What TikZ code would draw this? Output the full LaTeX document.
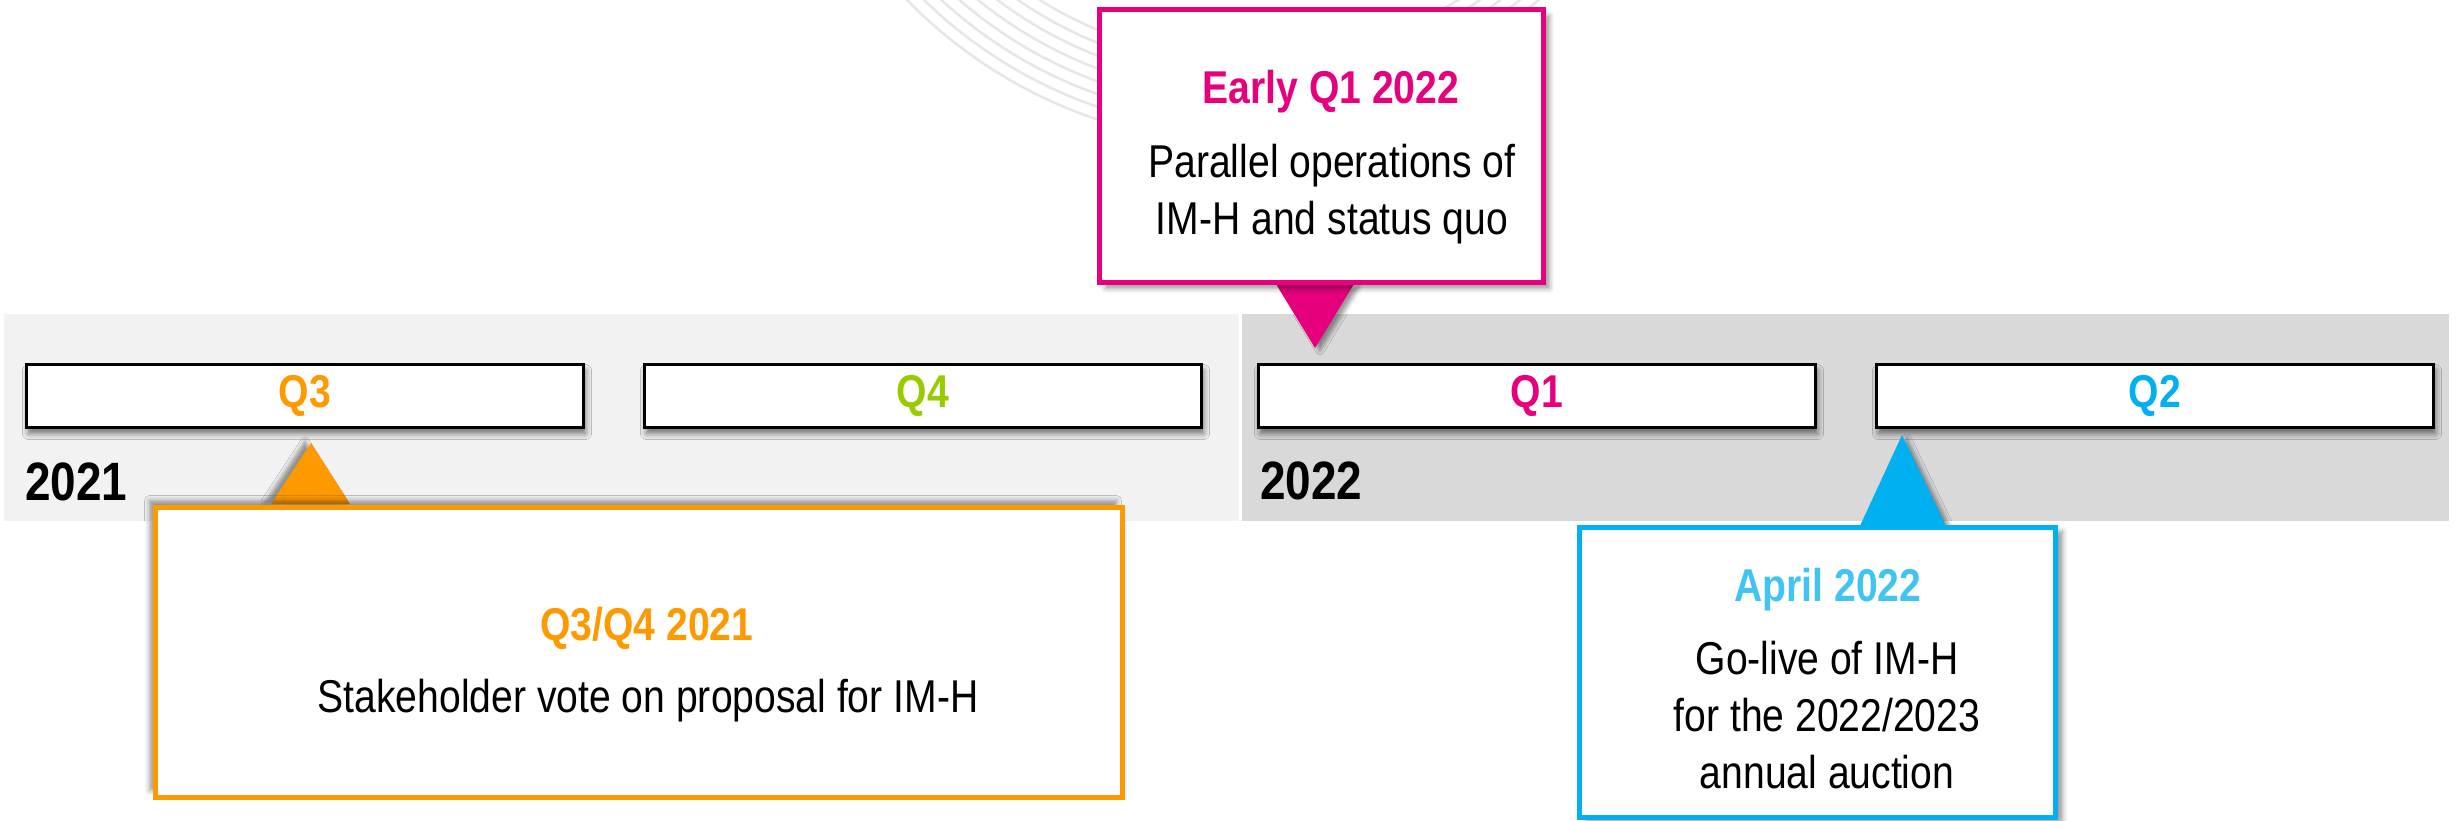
\documentclass[tikz,border=0pt]{standalone}
\usepackage{fontspec}
\setmainfont{Liberation Sans}[FakeStretch=0.85]
\usetikzlibrary{shadows.blur}
\definecolor{cpink}{RGB}{230,0,126}
\definecolor{corange}{RGB}{255,153,0}
\definecolor{cblue}{RGB}{0,176,240}
\definecolor{cbluet}{RGB}{66,196,242}
\definecolor{cgreen}{RGB}{153,204,0}
\definecolor{bandlight}{RGB}{242,242,242}
\definecolor{banddark}{RGB}{217,217,217}
\definecolor{arcgray}{RGB}{230,230,230}
\begin{document}
\begin{tikzpicture}[x=1pt,y=-1pt,
  qbox/.style={draw=black, line width=3pt, fill=white, minimum width=557pt, minimum height=63pt, inner sep=0pt,
    blur shadow={shadow xshift=2pt, shadow yshift=-6pt, shadow blur radius=6pt, shadow opacity=55},
    font=\fontsize{46}{56}\selectfont\bfseries},
  callout/.style={line width=5pt, fill=white, inner sep=0pt},
  pointer/.style={blur shadow={shadow xshift=5pt, shadow yshift=-3pt, shadow blur radius=4pt, shadow opacity=40}},
  titletext/.style={anchor=base, font=\fontsize{46}{56}\selectfont\bfseries},
  bodytext/.style={anchor=base, font=\fontsize{46}{56}\selectfont},
  yeartext/.style={anchor=base west, inner sep=0pt, font=\fontsize{54}{64}\selectfont\bfseries},
]
\useasboundingbox (0,0) rectangle (2458,820);
% decorative arcs
\begin{scope}
\clip (0,0) rectangle (1546,820);
\foreach \r in {478,466,...,394} \draw[arcgray, line width=2.5pt] (1249,-334) circle[radius=\r];
\end{scope}
% year bands
\fill[bandlight] (4,314) rectangle (1239,521);
\fill[banddark] (1242,314) rectangle (2449,521);
% quarter boxes
\node[qbox, text=corange] (q3) at (305,396) {Q3};
\node[qbox, text=cgreen] (q4) at (923,396) {Q4};
\node[qbox, text=cpink] (q1) at (1537,396) {Q1};
\node[qbox, text=cblue] (q2) at (2155,396) {Q2};
% years
\node[yeartext] (y21) at (25,500) {2021};
\node[yeartext] (y22) at (1260,499) {2022};
% pointers
\fill[cpink, pointer] (1276,284) -- (1354,284) -- (1315,348) -- cycle;
\fill[corange, blur shadow={shadow xshift=-6pt, shadow yshift=2pt, shadow blur radius=4pt, shadow opacity=40}] (271,504) -- (350,504) -- (311,443) -- cycle;
\fill[cblue, pointer] (1859,528) -- (1947,528) -- (1902,435) -- cycle;
% callout boxes
\node[callout, draw=cpink, minimum width=444pt, minimum height=273pt,
  blur shadow={shadow xshift=6pt, shadow yshift=-6pt, shadow blur radius=5pt, shadow opacity=40}] (boxpink) at (1321.5,146) {};
\node[callout, draw=corange, minimum width=967pt, minimum height=290pt,
  blur shadow={shadow xshift=-6pt, shadow yshift=7pt, shadow blur radius=5pt, shadow opacity=40}] (boxorange) at (639,652.5) {};
\node[callout, draw=cblue, minimum width=476pt, minimum height=290pt,
  blur shadow={shadow xshift=7pt, shadow yshift=-4pt, shadow blur radius=5pt, shadow opacity=40}] (boxblue) at (1817.5,672.5) {};
% callout texts
\node[titletext, text=cpink] (tpink) at (1331,103) {Early Q1 2022};
\node[bodytext] (bpinka) at (1332,177) {Parallel operations of};
\node[bodytext] (bpinkb) at (1332,234) {IM-H and status quo};
\node[titletext, text=corange] (torange) at (647,640) {Q3/Q4 2021};
\node[bodytext] (borange) at (648,712) {Stakeholder vote on proposal for IM-H};
\node[titletext, text=cbluet] (tblue) at (1828,601) {April 2022};
\node[bodytext] (bbluea) at (1827,674) {Go-live of IM-H};
\node[bodytext] (bblueb) at (1827,731) {for the 2022/2023};
\node[bodytext] (bbluec) at (1827,788) {annual auction};
\end{tikzpicture}
\end{document}
